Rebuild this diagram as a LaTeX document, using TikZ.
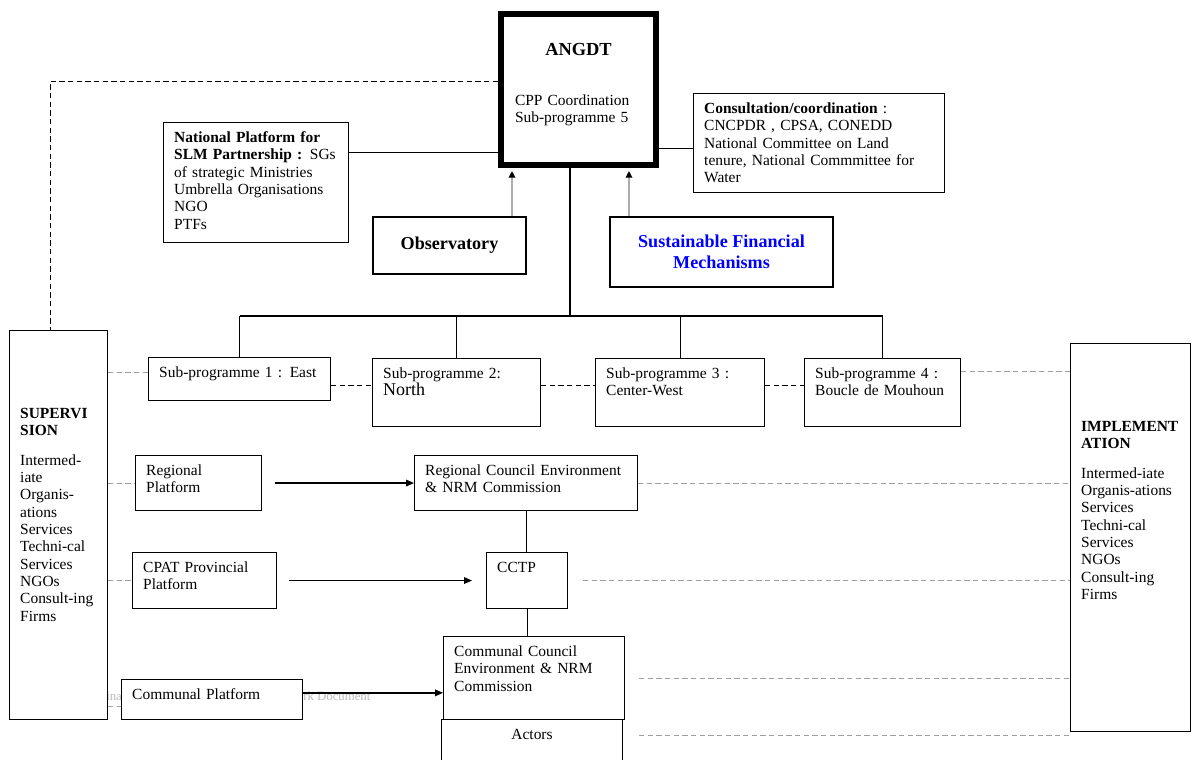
\documentclass[tikz,border=0pt]{standalone}
\usepackage{fontspec}
\setmainfont{Liberation Serif}
\usetikzlibrary{arrows.meta}

\begin{document}
\begin{tikzpicture}[x=0.75pt, y=-0.75pt,
        rect/.style={rectangle, draw, line width=0.8pt, anchor=north west, align=left, inner xsep=8pt, inner ysep=5pt, text height=10pt, font=\fontsize{11.6}{13}\selectfont},
        cbox/.style={rectangle, draw, line width=0.8pt, align=center, font=\fontsize{13.6}{15.5}\selectfont\bfseries},
        dashlink/.style={dash pattern=on 4pt off 2.5pt, line width=0.6pt},
        graydash/.style={dash pattern=on 4pt off 2.5pt, line width=0.6pt, draw=gray!75},
        uparrow/.style={draw=gray!65, line width=1pt, -{Triangle[length=5pt, width=5pt, color=black]}, shorten >=2.3pt},
        boldarrow/.style={line width=1pt, -{Triangle[length=6pt, width=5pt]}},
        thinarrow/.style={line width=0.6pt, -{Triangle[length=6pt, width=5pt]}},
        ghost/.style={inner sep=0pt, anchor=base west, text=gray!55, font=\fontsize{9.6}{11}\selectfont}
    ]
    \useasboundingbox (0,0) rectangle (1192,760);

    % footer fragments behind the boxes
    \node[ghost] (ghosta) at (106,700) {ina};
    \node[ghost] (ghostb) at (303,700) {rk Document};

    % top level
    \node[rect, line width=4.5pt, inner xsep=10.5pt, text width=95.25pt, text height=25.75pt, text depth=77.5pt] (angdt) at (498,11) {%
        {\centering\fontsize{13.8}{15}\selectfont\bfseries ANGDT\par}\vspace{25pt}CPP Coordination\\ Sub-programme 5};
    \node[rect, text width=122.5pt, text depth=70pt] (natpf) at (163,122) {%
        \textbf{National Platform for}\\ \textbf{SLM Partnership :} SGs\\ of strategic Ministries\\ Umbrella Organisations\\ NGO\\ PTFs};
    \node[rect, text width=172.25pt, text depth=54.25pt] (consult) at (693,93) {%
        \textbf{Consultation/coordination} :\\ CNCPDR , CPSA, CONEDD\\ National Committee on Land\\ tenure, National Commmittee for\\ Water};
    \node[cbox, minimum width=114.75pt, minimum height=42.75pt] (obs) at (449.5,245.5) {Observatory};
    \node[cbox, minimum width=167.25pt, minimum height=52.5pt, text=blue] (sfm) at (721.5,252) {Sustainable Financial\\ Mechanisms};

    % sub-programmes
    \node[rect, text width=120.5pt, text depth=12.25pt] (sp1) at (148,357) {Sub-programme 1 : East};
    \node[rect, text width=110pt, text depth=31pt] (sp2) at (372,358) {Sub-programme 2:\\ {\fontsize{13.5}{15}\selectfont North}};
    \node[rect, text width=110.75pt, text depth=31pt] (sp3) at (595,358) {Sub-programme 3 :\\ Center-West};
    \node[rect, text width=101pt, text depth=31pt] (sp4) at (804,358) {Sub-programme 4 :\\ Boucle de Mouhoun};

    % side columns
    \node[rect, text width=57.5pt, text height=61pt, text depth=220.75pt] (superv) at (9,330) {%
        \textbf{SUPERVI}\\ \textbf{SION}\\[9pt] Intermed-\\ iate\\ Organis-\\ ations\\ Services\\ Techni-cal\\ Services\\ NGOs\\ Consult-ing\\ Firms};
    \node[rect, text width=74pt, text height=61pt, text depth=220pt] (impl) at (1070,343) {%
        \textbf{IMPLEMENT}\\ \textbf{ATION}\\[9pt] Intermed-iate\\ Organis-ations\\ Services\\ Techni-cal\\ Services\\ NGOs\\ Consult-ing\\ Firms};

    % regional / provincial / communal levels
    \node[rect, text width=78.5pt, text depth=21.25pt] (regpf) at (135,455) {Regional\\ Platform};
    \node[rect, text width=151.25pt, text depth=21.25pt] (regcouncil) at (414,455) {Regional Council Environment\\ \& NRM Commission};
    \node[rect, text width=92pt, text depth=22pt] (cpat) at (132,552) {CPAT Provincial\\ Platform};
    \node[rect, text width=44.75pt, text depth=22pt] (cctp) at (486,552) {CCTP};
    \node[rect, text width=119.75pt, text depth=42.25pt] (comcouncil) at (443,636) {Communal Council\\ Environment \& NRM\\ Commission};
    \node[rect, text width=119.75pt, text depth=10pt] (complat) at (121,679) {Communal Platform};
    \node[rect, align=center, text width=119.75pt, text depth=13.75pt] (actors) at (441,719) {Actors};

    % links around ANGDT
    \draw[dashlink] ([yshift=6.4pt]angdt.west) -| ([xshift=-6pt]superv.north);
    \draw[line width=0.6pt] ([yshift=22.5pt]natpf.east) -- ([yshift=22.5pt]natpf.east -| angdt.west);
    \draw[line width=0.6pt] ([yshift=-4pt]consult.west) -- ([yshift=-4pt]consult.west -| angdt.east);
    \coordinate (obsin) at ([xshift=10.5pt]angdt.south west);
    \coordinate (sfmin) at ([xshift=-22.5pt]angdt.south east);
    \coordinate (angdtout) at ([xshift=-6.4pt]angdt.south);
    \draw[uparrow] (obs.north -| obsin) -- (obsin);
    \draw[uparrow] (sfm.north -| sfmin) -- (sfmin);

    % tree to the sub-programmes
    \coordinate (bus) at (0,316);
    \draw[line width=0.8pt] (angdtout) -- (angdtout |- bus);
    \draw[line width=0.8pt] (sp1.north |- bus) -- (sp4.north |- bus);
    \foreach \s in {sp1,sp2,sp3,sp4}
        \draw[line width=0.8pt] (\s.north |- bus) -- (\s.north);

    % dashed links between sub-programmes and side columns
    \draw[graydash] (superv.east |- 0,372) -- (sp1.west |- 0,372);
    \draw[dashlink] (sp1.east |- 0,385) -- (sp2.west |- 0,385);
    \draw[dashlink] (sp2.east |- 0,385) -- (sp3.west |- 0,385);
    \draw[dashlink] (sp3.east |- 0,385) -- (sp4.west |- 0,385);
    \draw[graydash] (sp4.east |- 0,371) -- (impl.west |- 0,371);

    % regional level
    \draw[graydash] (superv.east |- regpf.west) -- (regpf.west);
    \draw[boldarrow, shorten <=9.75pt] (regpf.east) -- (regcouncil.west);
    \draw[graydash] (regcouncil.east) -- (impl.west |- regcouncil.east);
    \draw[line width=0.8pt] (regcouncil.south) -- (regcouncil.south |- cctp.north);

    % provincial level
    \draw[graydash] (superv.east |- cpat.west) -- (cpat.west);
    \draw[thinarrow, shorten <=9pt, shorten >=10.5pt] (cpat.east) -- (cctp.west);
    \draw[graydash, shorten <=11.25pt] (cctp.east) -- (impl.west |- cctp.east);
    \draw[line width=0.8pt] (cctp.south) -- (cctp.south |- comcouncil.north);

    % communal level
    \draw[graydash] (superv.east |- 0,706) -- (complat.west |- 0,706);
    \draw[boldarrow] ([yshift=5pt]complat.east) -- ([yshift=5pt]complat.east -| comcouncil.west);
    \draw[graydash, shorten <=10.5pt] (comcouncil.east) -- (impl.west |- comcouncil.east);
    \draw[graydash, shorten <=12pt] ([yshift=5pt]actors.east) -- ([yshift=5pt]actors.east -| impl.west);
\end{tikzpicture}
\end{document}
